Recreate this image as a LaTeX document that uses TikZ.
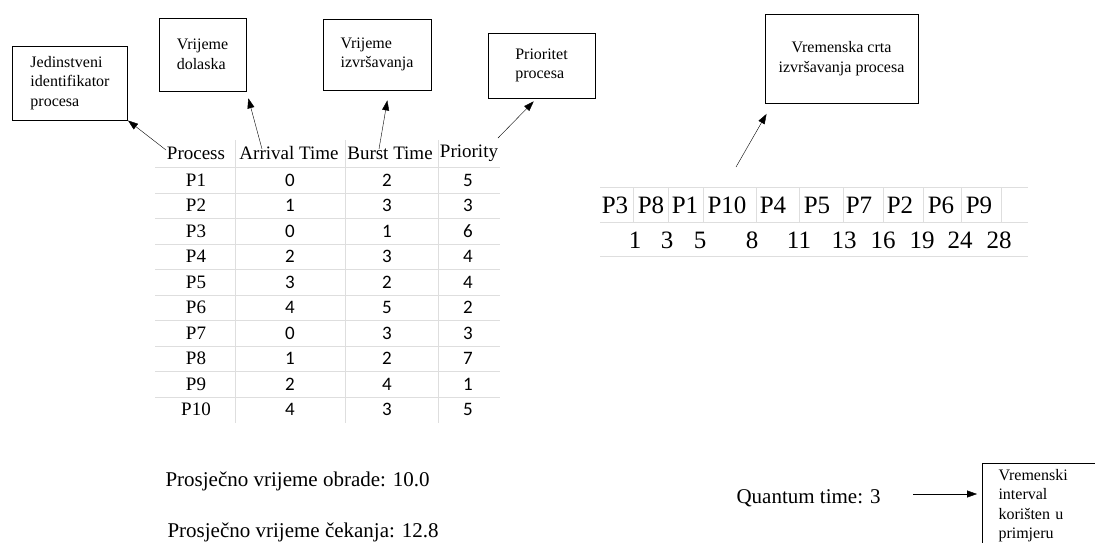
\documentclass[tikz,border=0pt]{standalone}
\usepackage{fontspec}
\setmainfont{Liberation Serif}
\newfontfamily\calibri{Carlito}
\usetikzlibrary{arrows.meta}

\tikzset{
  infobox/.style={draw, line width=1pt, align=left, font=\fontsize{16}{19.5}\selectfont},
  hdr/.style={font=\fontsize{19}{23}\selectfont},
  pcell/.style={font=\fontsize{19}{22}\selectfont},
  ncell/.style={font=\calibri\fontsize{19}{22}\selectfont},
  tl/.style={font=\fontsize{25}{28}\selectfont},
  bigtext/.style={font=\fontsize{21}{25}\selectfont, anchor=west},
  grid/.style={draw=black!13, line width=1pt},
  >={Triangle[length=10pt,width=7pt]}
}

\begin{document}
\begin{tikzpicture}[x=1pt,y=-1pt]
    \useasboundingbox (0,0) rectangle (1095,542);
    % boxes with descriptions
    \node[infobox, minimum width=115, minimum height=74] (idbox) at (70,83) {Jedinstveni\\identifikator\\procesa};
    \node[infobox, minimum width=87, minimum height=73] (dolbox) at (202.5,54.5) {Vrijeme\\dolaska};
    \node[infobox, minimum width=108, minimum height=71] (burstbox) at (377,54.5) {Vrijeme\\izvršavanja};
    \node[infobox, minimum width=107, minimum height=65] (priobox) at (541.5,65.5) {Prioritet\\procesa};
    \node[infobox, align=center, minimum width=153, minimum height=89] (timebox) at (841.5,58.5) {Vremenska crta\\izvršavanja procesa};
    \node[infobox, anchor=north west, text width=110, inner xsep=16, minimum height=84] (qbox) at (982,463) {Vremenski\\interval\\korišten u\\primjeru};

    % process table
    \foreach \y in {0,...,9}
        \draw[grid] (155,{167.5+25.5*\y}) -- (500,{167.5+25.5*\y});
    \foreach \x in {235,345,438}
        \draw[grid] (\x,140) -- (\x,423);
    \node[hdr] (hproc) at (196,153) {Process};
    \node[hdr] (harr) at (289,153) {Arrival Time};
    \node[hdr] (hburst) at (390,153) {Burst Time};
    \node[hdr] (hprio) at (469,153) {Priority};
    \foreach \p/\a/\b/\c [count=\i] in {1/0/2/5, 2/1/3/3, 3/0/1/6, 4/2/3/4, 5/3/2/4, 6/4/5/2, 7/0/3/3, 8/1/2/7, 9/2/4/1, 10/4/3/5} {
        \node[pcell] (p\i) at (196,{154.5+25.5*\i}) {P\p};
        \node[ncell] (a\i) at (290,{154.5+25.5*\i}) {\a};
        \node[ncell] (b\i) at (387,{154.5+25.5*\i}) {\b};
        \node[ncell] (c\i) at (468,{154.5+25.5*\i}) {\c};
    }

    % timeline
    \foreach \y in {187,222,256}
        \draw[grid] (600,\y) -- (1028,\y);
    \foreach \x in {633,668,703,756,799,843,883,923,961,1001}
        \draw[grid] (\x,187) -- (\x,222);
    \foreach \x/\t in {615/P3, 651/P8, 685/P1, 727/P10, 773/P4, 817/P5, 859/P7, 900/P2, 941/P6, 979/P9}
        \node[tl] (g\t) at (\x,205) {\t};
    \foreach \x/\t in {635/1, 667/3, 700/5, 752/8, 799/11, 844/13, 883/16, 922/19, 960/24, 999/28}
        \node[tl] (e\t) at (\x,240) {\t};

    % averages
    \node[bigtext] (obrada) at (162,481) {Prosječno vrijeme obrade: 10.0};
    \node[bigtext] (cekanje) at (164,532) {Prosječno vrijeme čekanja: 12.8};
    \node[bigtext] (quant) at (733,498) {Quantum time: 3};

    % arrows
    \coordinate (t1) at (166,150);
    \coordinate (t2) at (262,149);
    \coordinate (t3) at (379,149);
    \coordinate (t4) at (498,138);
    \coordinate (t5) at (736,167);
    \coordinate (t6) at (913,494);
    \draw[->] (t1) -- (idbox.south east);
    \draw[->, shorten >=7pt] (t2) -- (dolbox.south east);
    \draw[->, shorten >=10pt] (t3) -- ([xshift=12pt]burstbox.south);
    \draw[->, shorten >=4pt] (t4) -- ([xshift=-5pt]priobox.south);
    \draw[->, shorten >=12pt] (t5) -- ([xshift=8pt]timebox.south west);
    \draw[->, shorten >=5pt] (t6) -- (t6 -| qbox.west);
\end{tikzpicture}
\end{document}
